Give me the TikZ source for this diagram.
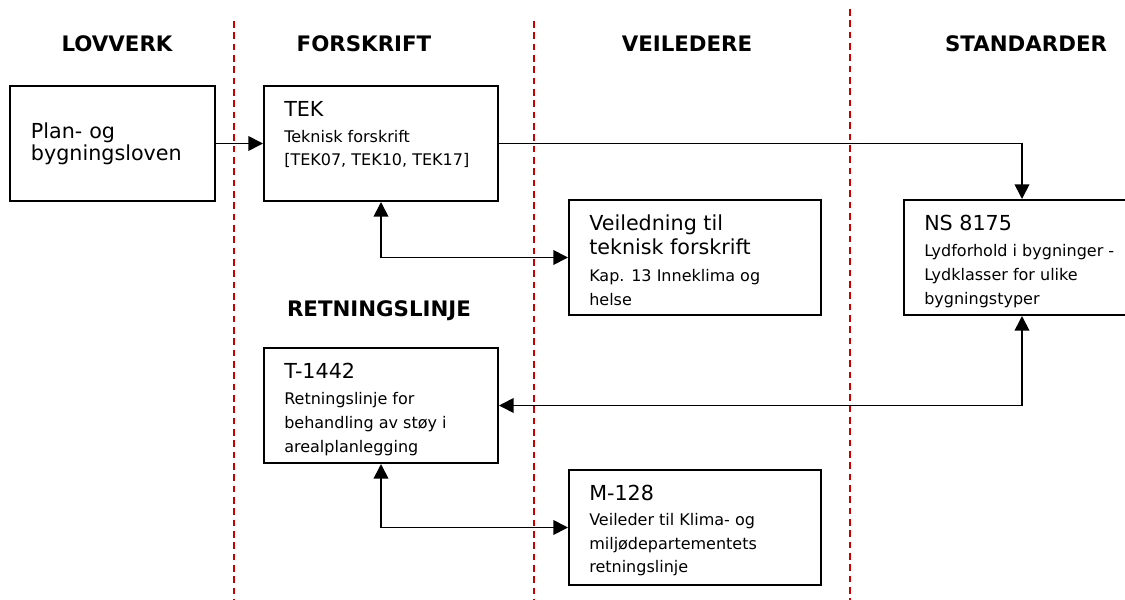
\documentclass[tikz,border=0pt]{standalone}
\usepackage{fontspec}
\setmainfont{DejaVu Sans}
\usepackage{xcolor}
\usetikzlibrary{arrows.meta,positioning}
\definecolor{Skille}{HTML}{C80000}
\definecolor{Ink}{HTML}{000000}
\newcommand{\boxhead}{\fontsize{15.5}{18}\selectfont}
\newcommand{\boxbody}{\fontsize{12}{18}\selectfont}

\begin{document}
\begin{tikzpicture}[x=0.75pt,y=-0.75pt,
    boks/.style={draw=Ink, line width=1.5pt, inner sep=0pt, anchor=north west, minimum height=86.25pt},
    tekst/.style={inner sep=0pt, anchor=north west, align=left, font=\boxbody},
    kolonne/.style={anchor=base, font=\fontsize{16}{18}\selectfont\bfseries},
    pil/.style={draw=Ink, line width=1.3pt, -{Triangle[length=11pt,width=11pt]}},
    dobbelpil/.style={draw=Ink, line width=1.3pt, {Triangle[length=11pt,width=11pt]}-{Triangle[length=11pt,width=11pt]}}]
  \useasboundingbox (0,0) rectangle (1125,600);
  % column separators
  \foreach \x/\y in {234/21, 534/21, 850/9} {
    \draw[Skille, line width=1.5pt, dash pattern=on 5pt off 3.5pt] (\x,\y) -- (\x,600);
  }
  \node[kolonne] (lovverk) at (117,51) {LOVVERK};
  \node[kolonne] (forskrift) at (364,51) {FORSKRIFT};
  \node[kolonne] (veiledere) at (687,51) {VEILEDERE};
  \node[kolonne] (standarder) at (1026,51) {STANDARDER};
  \node[kolonne] (retningslinje) at (379,316) {RETNINGSLINJE};

  % boxes
  \node[boks, minimum width=153.75pt, text width=122.25pt, inner xsep=15.75pt, align=left,
        font=\fontsize{15.5}{16.5}\selectfont] (law) at (9,85) {Plan- og\\bygningsloven};
  \node[boks, minimum width=175.5pt] (tek) at (263,85) {};
  \node[boks, minimum width=189pt] (veil) at (568,199) {};
  \node[boks, minimum width=177pt] (ns) at (903,199) {};
  \node[boks, minimum width=175.5pt] (t1442) at (263,347) {};
  \node[boks, minimum width=189pt] (m128) at (568,469) {};

  \node[tekst, below right=12pt and 15.75pt of tek.north west] (tektxt)
    {{\boxhead TEK}\\[1.5pt] Teknisk forskrift\\[-1pt] {[TEK07, TEK10, TEK17]}};
  \node[tekst, below right=12pt and 15.75pt of veil.north west] (veiltxt)
    {{\boxhead Veiledning til}\\ {\boxhead teknisk forskrift}\\[2pt] Kap. 13 Inneklima og\\ helse};
  \node[tekst, below right=12pt and 15.75pt of ns.north west] (nstxt)
    {{\boxhead NS 8175}\\[1.5pt] Lydforhold i bygninger -\\ Lydklasser for ulike\\ bygningstyper};
  \node[tekst, below right=12pt and 15.75pt of t1442.north west] (t1442txt)
    {{\boxhead T-1442}\\[1.5pt] Retningslinje for\\ behandling av støy i\\ arealplanlegging};
  \node[tekst, below right=12pt and 15.75pt of m128.north west] (m128txt)
    {{\boxhead M-128}\\[1pt] Veileder til Klima- og\\[-0.5pt] miljødepartementets\\[-0.5pt] retningslinje};

  % connectors
  \draw[pil] (law) -- (tek);
  \draw[pil] (tek.east) -| (ns.north);
  \draw[dobbelpil] (tek.south) |- (veil.west);
  \draw[dobbelpil] (ns.south) |- (t1442.east);
  \draw[dobbelpil] (t1442.south) |- (m128.west);
\end{tikzpicture}
\end{document}
